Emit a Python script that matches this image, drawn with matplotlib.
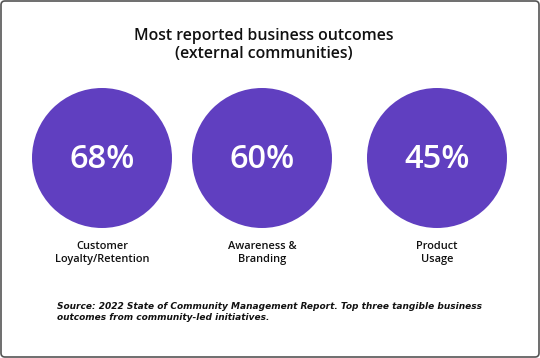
import matplotlib
matplotlib.use("Agg")
import matplotlib.pyplot as plt
from matplotlib.patches import Circle, FancyBboxPatch

# ---- data ----
title_lines = "Most reported business outcomes\n(external communities)"
values = [68, 60, 45]
labels = ["Customer\nLoyalty/Retention", "Awareness &\nBranding", "Product\nUsage"]
source = ("Source: 2022 State of Community Management Report. Top three tangible business\n"
          "outcomes from community-led initiatives.")

purple = "#603FC0"
plt.rcParams["font.family"] = ["Open Sans", "DejaVu Sans"]

fig = plt.figure(figsize=(5.4, 3.58), dpi=100)
ax = fig.add_axes([0, 0, 1, 1])
ax.set_xlim(0, 540)
ax.set_ylim(358, 0)
ax.set_aspect("equal")
ax.axis("off")

# frame
ax.add_patch(FancyBboxPatch((1, 1), 538, 356, boxstyle="round,pad=0,rounding_size=4",
                            fill=False, edgecolor="#555555", linewidth=1.2))

ax.text(264, 45, title_lines, ha="center", va="center", fontsize=11.4,
        fontweight="semibold", color="#111111", linespacing=1.2)

centers = [102, 262, 437]
for cx, v, lab in zip(centers, values, labels):
    ax.add_patch(Circle((cx, 158), 70, color=purple, linewidth=0))
    ax.text(cx, 160, f"{v}%", ha="center", va="center", fontsize=23.5,
            color="white", fontweight="semibold")
    ax.text(cx, 253, lab, ha="center", va="center", fontsize=7.9,
            color="#111111", fontweight="semibold", linespacing=1.2)

ax.text(57, 312, source, ha="left", va="center", fontsize=6.5, style="italic",
        fontweight="bold", color="#111111", linespacing=1.3,
        family=["DejaVu Sans"])

fig.savefig("out.png", dpi=100)
